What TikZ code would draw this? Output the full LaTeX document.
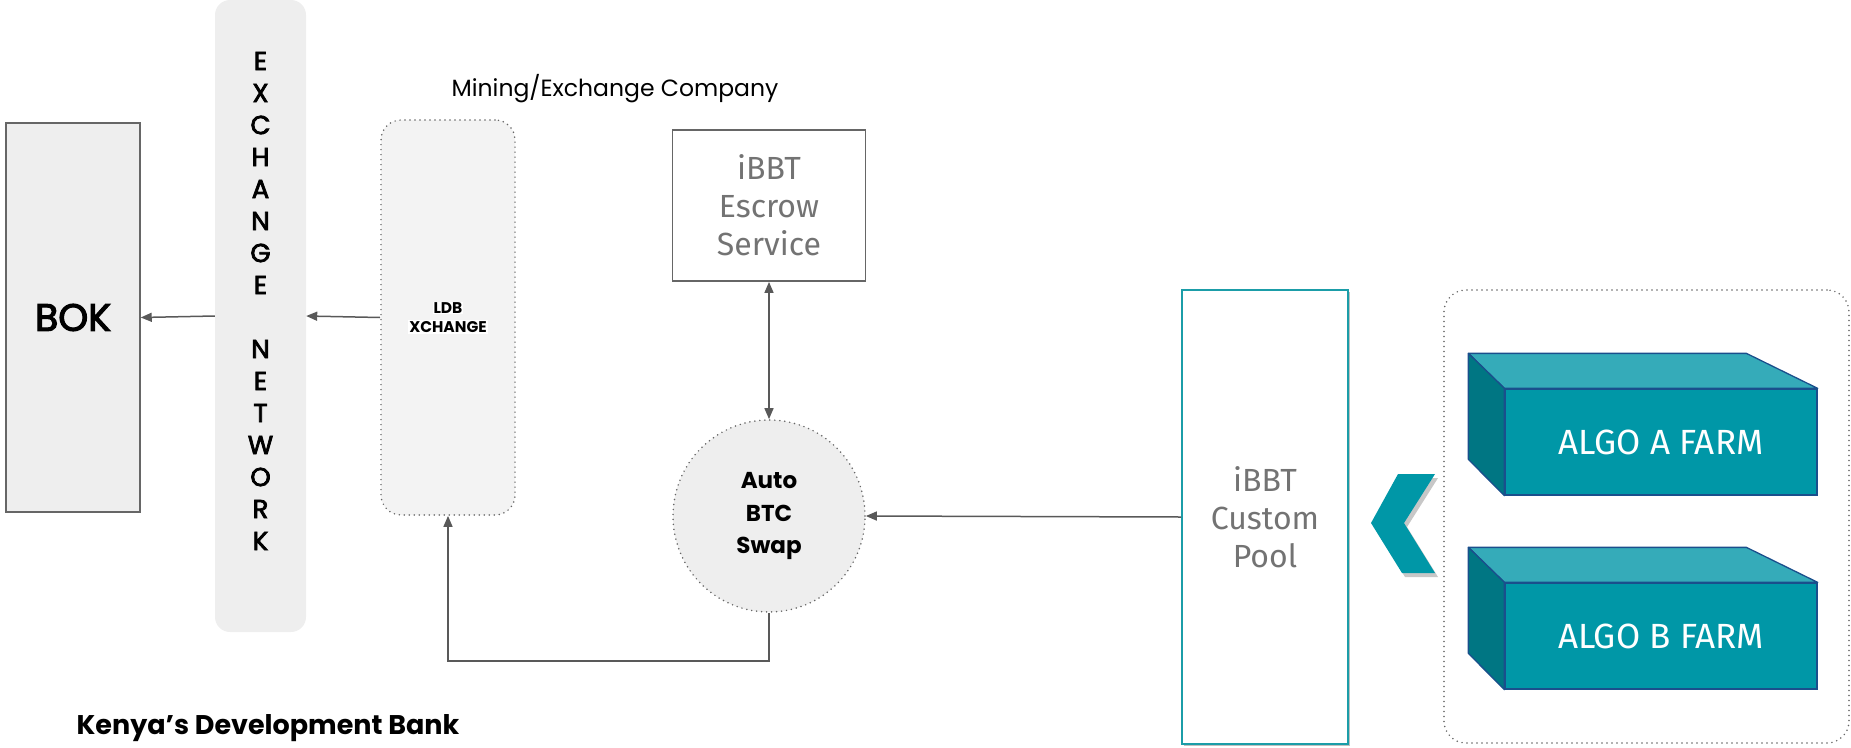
\documentclass[tikz,border=0pt]{standalone}
\usepackage{fontspec}
\setmainfont{Poppins}
\newfontfamily\popmed[FakeBold=3]{Poppins}
\newfontfamily\grayfont{Fira Sans}
\newfontfamily\algofont{Fira Sans}
\usetikzlibrary{arrows.meta,shadows}
\definecolor{boxgray}{HTML}{EEEEEE}
\definecolor{ldbgray}{HTML}{F3F3F3}
\definecolor{linegray}{HTML}{595959}
\definecolor{edgegray}{HTML}{666666}
\definecolor{txtgray}{HTML}{737373}
\definecolor{poolteal}{HTML}{1B9DA8}
\definecolor{farmfront}{HTML}{0097A7}
\definecolor{farmtop}{HTML}{35ABB9}
\definecolor{farmside}{HTML}{007683}
\definecolor{farmedge}{HTML}{1A4F8C}
\tikzset{
  arr/.style={draw=linegray, line width=1.5pt, -{Triangle[length=11pt,width=9pt]}},
  dbl/.style={draw=linegray, line width=1.5pt, {Triangle[length=11pt,width=9pt]}-{Triangle[length=11pt,width=9pt]}},
  dotline/.style={draw=edgegray, line width=1.7pt, dash pattern=on 0pt off 5pt, line cap=round},
  letter/.style={font=\popmed\fontsize{26}{28}\selectfont, inner sep=0pt},
  graytext/.style={font=\grayfont\fontsize{32}{38}\selectfont, text=txtgray, align=center},
  farmface/.style={fill=farmfront, draw=farmedge, line width=1.3pt, minimum width=312pt, minimum height=106pt, inner sep=0pt,
                   text=white, font=\algofont\fontsize{35}{38}\selectfont},
}
\begin{document}
\begin{tikzpicture}[x=1pt,y=-1pt]
\useasboundingbox (0,0) rectangle (1851,747);

% Bank of Kenya
\node[fill=boxgray, draw=edgegray, line width=1.5pt, minimum width=134pt, minimum height=389pt, inner sep=0pt,
      font=\popmed\fontsize{38}{40}\selectfont] (bok) at (73,317.5) {BOK};

% exchange network bar
\node[fill=boxgray, rounded corners=15pt, minimum width=91pt, minimum height=632pt, inner sep=0pt] (exnet) at (260.5,316) {};
\foreach \c [count=\i] in {E,X,C,H,A,N,G,E,,N,E,T,W,O,R,K}
  \node[letter, name=exl\i] at (260.5,{61+32*(\i-1)}) {\c};

% LDB exchange
\node[fill=ldbgray, dotline, rounded corners=20pt, minimum width=134pt, minimum height=395pt, inner sep=0pt] (ldb) at (448,317.5) {};
\node[fill=white, inner sep=1pt, font=\bfseries\fontsize{15.5}{17}\selectfont] (ldbA) at (448,308) {LDB};
\node[fill=white, inner sep=1pt, font=\bfseries\fontsize{15.5}{17}\selectfont] (ldbB) at (448,327) {XCHANGE};

\node[font=\fontsize{23.5}{26}\selectfont] (mining) at (615,89) {Mining/Exchange Company};

% escrow service
\node[fill=white, draw=edgegray, line width=1.8pt, minimum width=193pt, minimum height=151pt, inner sep=0pt, graytext] (escrow) at (769,205.5) {iBBT\\Escrow\\Service};

% swap
\node[circle, fill=boxgray, dotline, minimum size=192pt, inner sep=0pt, align=center,
      font=\bfseries\fontsize{23}{32.5}\selectfont] (swap) at (769,516) {Auto\\BTC\\Swap};

% custom pool
\node[fill=white, draw=poolteal, line width=2pt, minimum width=166pt, minimum height=454pt, inner sep=0pt, graytext,
      drop shadow={shadow xshift=1.5pt, shadow yshift=-1.5pt, opacity=.25, fill=black}] (pool) at (1265,517) {iBBT\\Custom\\Pool};

% farm group
\node[dotline, rounded corners=22pt, minimum width=405pt, minimum height=453pt, inner sep=0pt] (farms) at (1646.5,516.5) {};

% chevron
\fill[black, opacity=.22] (1401,478) -- (1438,478) -- (1407,527) -- (1438,577) -- (1405,577) -- (1374,527) -- cycle;
\fill[farmfront] (1398,474) -- (1435,474) -- (1404,523) -- (1435,573) -- (1402,573) -- (1371,523) -- cycle;

% farm blocks
\node[farmface] (farmA) at (1661,442) {ALGO A FARM};
\node[farmface] (farmB) at (1661,636) {ALGO B FARM};
\foreach \f in {farmA,farmB}{
  \filldraw[fill=farmtop, draw=farmedge, line width=1.3pt, line join=round]
    (\f.north west) -- ++(-36,-35) -- ++(278,0) -- (\f.north east) -- cycle;
  \filldraw[fill=farmside, draw=farmedge, line width=1.3pt, line join=round]
    (\f.north west) -- ++(-36,-35) -- ++(0,106) -- (\f.south west) -- cycle;
}

% connectors
\draw[arr] (exnet.west) -- (bok.east);
\draw[arr] (ldb.west) -- (exnet.east);
\draw[dbl] (escrow.south) -- (swap.north);
\coordinate (turn) at (769,661);
\draw[arr] (swap.south) -- (turn) -| (ldb.south);
\draw[arr] (pool.west) -- (swap.east);

\node[font=\bfseries\fontsize{27}{30}\selectfont] (bank) at (268,728) {Kenya’s Development Bank};
\end{tikzpicture}
\end{document}
